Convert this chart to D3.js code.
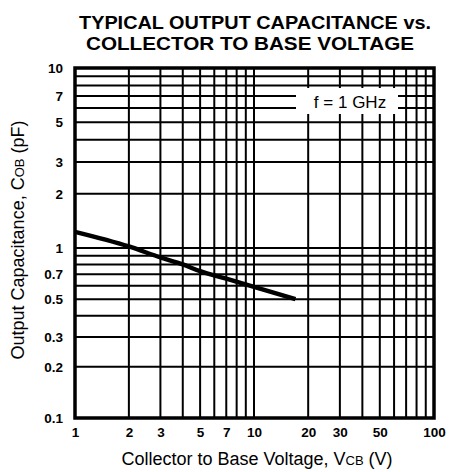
<!DOCTYPE html>
<html><head><meta charset="utf-8">
<script src="https://cdn.jsdelivr.net/npm/d3@7"></script>
<style>body{margin:0;background:#fff}</style>
</head><body>
<svg id="c" width="449" height="472"></svg>
<script>
const voltage = [1, 2, 3, 4, 5, 7, 10, 17];
const capacitance = [1.23, 1.02, 0.88, 0.80, 0.73, 0.66, 0.59, 0.50];
const xTickLabels = [1, 2, 3, 5, 7, 10, 20, 30, 50, 100];
const yTickLabels = [0.1, 0.2, 0.3, 0.5, 0.7, 1, 2, 3, 5, 7, 10];
const xGrid = [2,3,4,5,6,7,8,9,10,20,30,40,50,60,70,80,90];
const yGrid = [0.2,0.3,0.4,0.5,0.6,0.7,0.8,0.9,1,2,3,4,5,6,7,8,9];

const svg = d3.select("#c");
const x = d3.scaleLog().domain([1, 10, 100]).range([75, 254, 434]);
const y = d3.scaleLog().domain([0.1, 1, 10]).range([418, 248, 68]);
const font = "Liberation Sans, Arial, Helvetica, sans-serif";

// grid
svg.append("g").selectAll("line").data(xGrid).join("line")
  .attr("x1", d => x(d)).attr("x2", d => x(d))
  .attr("y1", y(0.1)).attr("y2", y(10))
  .attr("stroke", "#000").attr("stroke-width", 2);
svg.append("g").selectAll("line").data(yGrid).join("line")
  .attr("y1", d => y(d)).attr("y2", d => y(d))
  .attr("x1", x(1)).attr("x2", x(100))
  .attr("stroke", "#000").attr("stroke-width", 2);

// legend box
svg.append("rect").attr("x", 296).attr("y", 88).attr("width", 102).attr("height", 26).attr("fill", "#fff");
svg.append("text").attr("x", 350).attr("y", 108).attr("text-anchor", "middle")
  .attr("font-family", font).attr("font-size", 17).text("f = 1 GHz");

// border
svg.append("rect").attr("x", x(1)).attr("y", y(10))
  .attr("width", x(100) - x(1)).attr("height", y(0.1) - y(10))
  .attr("fill", "none").attr("stroke", "#000").attr("stroke-width", 3.5);

// curve
const pts = voltage.map((v, i) => [v, capacitance[i]]);
svg.append("path").datum(pts)
  .attr("d", d3.line().x(d => x(d[0])).y(d => y(d[1])).curve(d3.curveMonotoneX))
  .attr("fill", "none").attr("stroke", "#000").attr("stroke-width", 4.5);

// axes labels
const xAxis = d3.axisBottom(x).tickValues(xTickLabels).tickFormat(d3.format("d")).tickSize(0).tickPadding(9);
const gx = svg.append("g").attr("transform", `translate(0,${y(0.1)})`).call(xAxis);
gx.select(".domain").remove();
gx.selectAll("text").attr("font-family", font).attr("font-size", 13.5).attr("font-weight", "bold").attr("fill", "#000");

const yAxis = d3.axisLeft(y).tickValues(yTickLabels).tickFormat(d => d < 1 ? d3.format(".1f")(d) : d3.format("d")(d)).tickSize(0).tickPadding(12);
const gy = svg.append("g").attr("transform", `translate(${x(1)},0)`).call(yAxis);
gy.select(".domain").remove();
gy.selectAll("text").attr("font-family", font).attr("font-size", 13.5).attr("font-weight", "bold").attr("fill", "#000");

// titles
const t = svg.append("text").attr("font-family", font).attr("font-weight", "bold").attr("font-size", 18).attr("text-anchor", "middle");
t.append("tspan").attr("x", 255).attr("y", 29).attr("textLength", 352).attr("lengthAdjust", "spacingAndGlyphs").text("TYPICAL OUTPUT CAPACITANCE vs.");
t.append("tspan").attr("x", 250).attr("y", 50).attr("textLength", 328).attr("lengthAdjust", "spacingAndGlyphs").text("COLLECTOR TO BASE VOLTAGE");

const xt = svg.append("text").attr("x", 257).attr("y", 465).attr("text-anchor", "middle")
  .attr("font-family", font).attr("font-size", 18);
xt.append("tspan").text("Collector to Base Voltage, V");
xt.append("tspan").attr("font-size", 13).text("CB");
xt.append("tspan").text(" (V)");

const yt = svg.append("text").attr("transform", "translate(24,240) rotate(-90)").attr("text-anchor", "middle")
  .attr("font-family", font).attr("font-size", 18);
yt.append("tspan").text("Output Capacitance, C");
yt.append("tspan").attr("font-size", 13).text("OB");
yt.append("tspan").text(" (pF)");
</script>
</body></html>
